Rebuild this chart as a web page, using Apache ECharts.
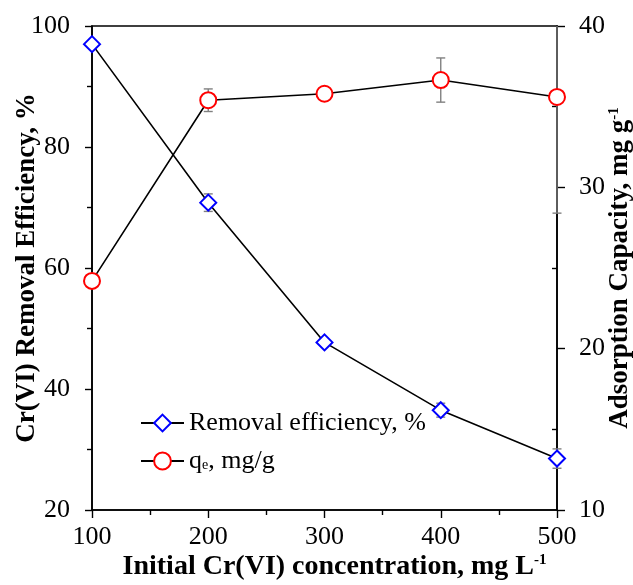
<!DOCTYPE html>
<html>
<head>
<meta charset="utf-8">
<script src="https://cdn.jsdelivr.net/npm/echarts@6/dist/echarts.min.js"></script>
<style>
  html, body { margin: 0; padding: 0; background: #fff; }
  #chart { width: 633px; height: 585px; }
</style>
</head>
<body>
<div id="chart"></div>
<script>
// data
const concentrations = [100, 200, 300, 400, 500];
const removalEff = [97.0, 70.8, 47.7, 36.5, 28.5];
const removalErr = [0, 1.45, 0, 1.15, 1.6];
const qeValues = [24.2, 35.4, 35.8, 36.65, 35.6];
const qeErr = [0, 0.7, 0, 1.37, 7.2];
const leftTicks = [20, 100, 20];   // min, max, interval
const rightTicks = [10, 40, 10];

const FONT = 'Liberation Serif';
const AXIS_COLOR = '#000';
const ERR_COLOR = '#808080';

const chart = echarts.init(document.getElementById('chart'));

function pairs(vals) {
  return concentrations.map((x, i) => [x, vals[i]]);
}
function errPairs(vals, errs) {
  return concentrations
    .map((x, i) => [x, vals[i] - errs[i], vals[i] + errs[i]])
    .filter((d, i) => errs[i] > 0);
}

function errorBar(params, api) {
  const x = api.value(0);
  const lo = api.coord([x, api.value(1)]);
  const hi = api.coord([x, api.value(2)]);
  const cs = params.coordSys;
  const top = Math.max(hi[1], cs.y);
  const bottom = Math.min(lo[1], cs.y + cs.height);
  const half = 4.5;
  const style = { stroke: ERR_COLOR, lineWidth: 1.4 };
  const children = [{
    type: 'line', shape: { x1: lo[0], y1: top, x2: lo[0], y2: bottom }, style
  }];
  if (hi[1] >= cs.y) {
    children.push({ type: 'line', shape: { x1: hi[0] - half, y1: hi[1], x2: hi[0] + half, y2: hi[1] }, style });
  }
  if (lo[1] <= cs.y + cs.height) {
    children.push({ type: 'line', shape: { x1: lo[0] - half, y1: lo[1], x2: lo[0] + half, y2: lo[1] }, style });
  }
  return { type: 'group', children };
}

const axisLine = { show: true, lineStyle: { color: AXIS_COLOR, width: 1.6 } };
const tickStyle = { color: AXIS_COLOR, width: 1.4 };
const labelStyle = { fontFamily: FONT, fontSize: 26, color: '#000' };
const nameStyle = {
  fontFamily: FONT, fontSize: 27, fontWeight: 'bold', color: '#000',
  rich: { sup: { fontFamily: FONT, fontSize: 15, fontWeight: 'bold', verticalAlign: 'top', color: '#000' } }
};

chart.setOption({
  animation: false,
  backgroundColor: '#fff',
  textStyle: { fontFamily: FONT },
  grid: {
    left: 92, right: 76, top: 26, bottom: 75,
    containLabel: false,
    outerBoundsMode: 'none',
    show: true, borderColor: AXIS_COLOR, borderWidth: 1.6, backgroundColor: 'transparent'
  },
  legend: {
    orient: 'vertical',
    left: 135,
    top: 405,
    itemGap: 12,
    itemWidth: 43,
    itemHeight: 21,
    textStyle: {
      fontFamily: FONT, fontSize: 26, color: '#000',
      rich: { sub: { fontFamily: FONT, fontSize: 14, verticalAlign: 'bottom', color: '#000', padding: [0, 0, 2, 0] } }
    },
    formatter: name => name === 'qe' ? 'q{sub|e}, mg/g' : name,
    data: ['Removal efficiency, %', 'qe']
  },
  xAxis: {
    type: 'value',
    min: 100, max: 500, interval: 100,
    name: 'Initial Cr(VI) concentration, mg L{sup|-1}',
    nameLocation: 'middle',
    nameGap: 43,
    nameMoveOverlap: false,
    nameTextStyle: Object.assign({}, nameStyle, { fontSize: 28, padding: [0, 0, 0, 20] }),
    axisLine,
    axisTick: { show: true, length: 8, lineStyle: tickStyle },
    minorTick: { show: true, splitNumber: 2, length: 5, lineStyle: tickStyle },
    axisLabel: Object.assign({ margin: 14 }, labelStyle),
    splitLine: { show: false }
  },
  yAxis: [{
    type: 'value',
    position: 'left',
    min: leftTicks[0], max: leftTicks[1], interval: leftTicks[2],
    name: 'Cr(VI) Removal Efficiency, %',
    nameLocation: 'middle',
    nameRotate: 90,
    nameGap: 51,
    nameMoveOverlap: false,
    nameTextStyle: nameStyle,
    axisLine,
    axisTick: { show: true, length: 7, lineStyle: tickStyle },
    minorTick: { show: true, splitNumber: 2, length: 5, lineStyle: tickStyle },
    axisLabel: Object.assign({ margin: 22 }, labelStyle),
    splitLine: { show: false }
  }, {
    type: 'value',
    position: 'right',
    min: rightTicks[0], max: rightTicks[1], interval: rightTicks[2],
    name: 'Adsorption Capacity, mg g{sup|-1}',
    nameLocation: 'middle',
    nameRotate: 90,
    nameGap: 50,
    nameMoveOverlap: false,
    nameTextStyle: nameStyle,
    axisLine,
    axisTick: { show: true, length: 8, lineStyle: tickStyle },
    axisLabel: Object.assign({ margin: 22 }, labelStyle),
    splitLine: { show: false }
  }, {
    // inward minor ticks on the right axis
    type: 'value',
    position: 'right',
    min: rightTicks[0], max: rightTicks[1],
    axisLine: { show: false },
    axisTick: { show: true, inside: true, length: 5, lineStyle: tickStyle, customValues: [15, 25, 35] },
    axisLabel: { show: false },
    splitLine: { show: false }
  }],
  series: [{
    type: 'custom',
    name: 'reErr',
    yAxisIndex: 0,
    renderItem: errorBar,
    encode: { x: 0, y: [1, 2] },
    data: errPairs(removalEff, removalErr),
    z: 3
  }, {
    type: 'custom',
    name: 'qeErr',
    yAxisIndex: 1,
    renderItem: errorBar,
    encode: { x: 0, y: [1, 2] },
    data: errPairs(qeValues, qeErr),
    z: 3
  }, {
    type: 'line',
    name: 'Removal efficiency, %',
    yAxisIndex: 0,
    data: pairs(removalEff),
    symbol: 'diamond',
    symbolSize: 16,
    showAllSymbol: true,
    lineStyle: { color: '#000', width: 1.6 },
    itemStyle: { color: '#fff', borderColor: '#0000ff', borderWidth: 2 },
    z: 5
  }, {
    type: 'line',
    name: 'qe',
    yAxisIndex: 1,
    data: pairs(qeValues),
    symbol: 'circle',
    symbolSize: 16,
    showAllSymbol: true,
    lineStyle: { color: '#000', width: 1.6 },
    itemStyle: { color: '#fff', borderColor: '#ff0000', borderWidth: 2 },
    z: 5
  }]
});

window.addEventListener('resize', () => chart.resize());
</script>
</body>
</html>
